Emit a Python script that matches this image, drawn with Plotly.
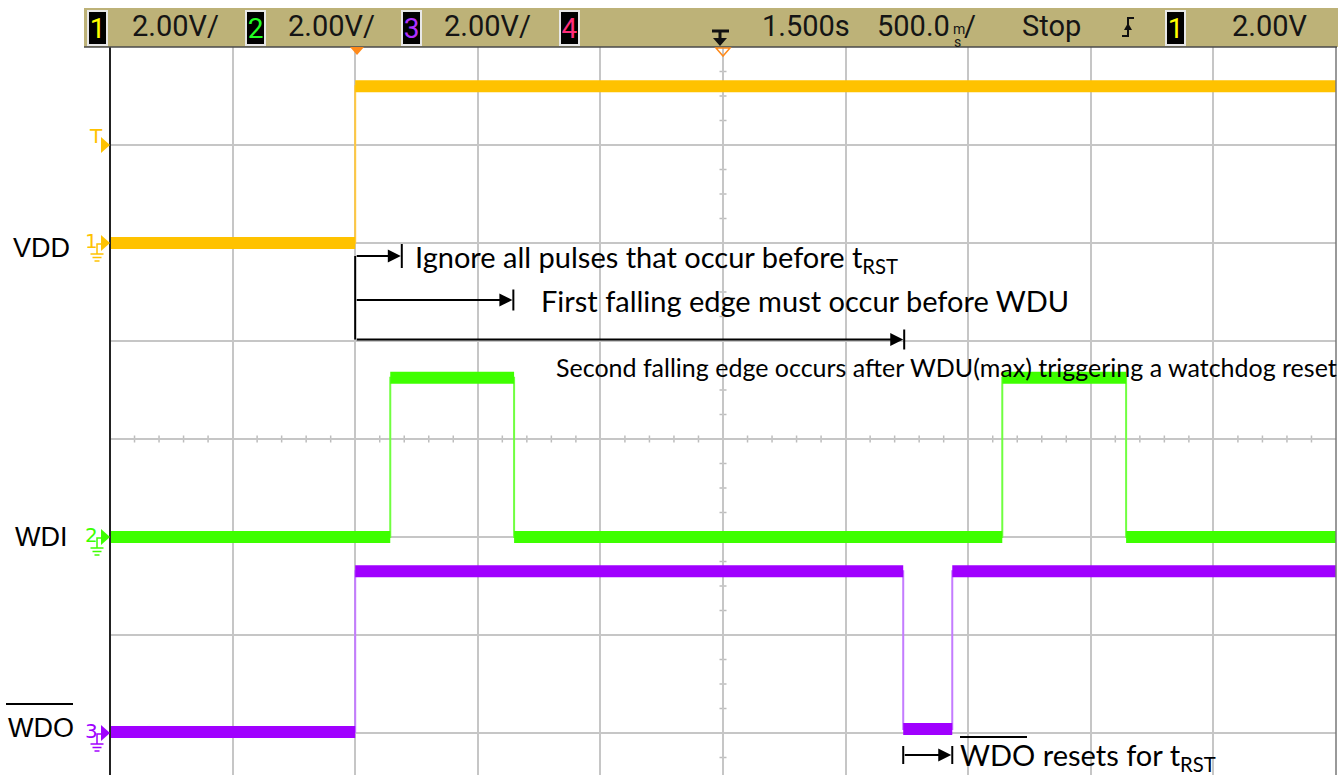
import plotly.graph_objects as go

# ---------------- data ----------------
TIME_RANGE = [-1.0, 4.0]          # seconds, 500 ms/div, 10 divisions
VOLTS_PER_DIV = 2.0
TRIGGER_LEVEL_V = 2.0
CH_NAMES = ["VDD", "WDI", "WDO"]
CH_OFFSET_DIV = [2, -1, -3]       # ground marker position (divisions from centre)

VDD_T = [-1.0, 0.0, 4.0]
VDD_V = [0.0, 3.2]
WDI_T = [-1.0, 0.143, 0.648, 2.639, 3.144, 4.0]
WDI_V = [0.0, 3.25, 0.0, 3.25, 0.0]
WDO_T = [-1.0, 0.0, 2.235, 2.435, 4.0]
WDO_V = [0.02, 3.3, 0.08, 3.3]

ARROW_END_T = [0.19, 0.645, 2.239]   # ends of the three timing arrows
RESET_T = [2.235, 2.435]             # WDO reset pulse arrow

HEADER_ITEMS = ["2.00V/", "2.00V/", "2.00V/", "1.500s", "Stop", "2.00V"]
ANNOT_TEXT = [
    "Ignore all pulses that occur before t<sub>RST</sub>",
    "First falling edge must occur before WDU",
    "Second falling edge occurs after WDU(max) triggering a watchdog reset",
    "WDO resets for t<sub>RST</sub>",
]

# ---------------- styling ----------------
W, H = 1341, 775
L, R, T, B = 110, 1336, 47, 775
CX, CY = 723, 439
DIVX = (R - L) / 10.0
DIVY = (CY - T) / 4.0
YBOT = -(B - CY) / DIVY

YEL, GRN, PUR = "#FFC200", "#3EFF00", "#A000FF"
YEL_E, GRN_E, PUR_E = "#FFC840", "#70FF40", "#C47CFF"
COLORS = [YEL, GRN, PUR]
EDGE_COLORS = [YEL_E, GRN_E, PUR_E]
HEADER_FONT = "Roboto, Liberation Sans, sans-serif"
NOTE_FONT = "Lato, Open Sans, sans-serif"


def pxp(x):  # pixel -> paper x
    return (x - L) / (R - L)


def pyp(y):  # pixel -> paper y
    return (B - y) / (B - T)


def tx(x):  # pixel -> data time
    return TIME_RANGE[0] + (x - L) / DIVX * 0.5


def dy(y):  # pixel -> data divisions
    return (CY - y) / DIVY


fig = go.Figure()

for name, off, tt, vv, col, ecol in zip(CH_NAMES, CH_OFFSET_DIV, [VDD_T, WDI_T, WDO_T],
                                        [VDD_V, WDI_V, WDO_V], COLORS, EDGE_COLORS):
    ys = [off + v / VOLTS_PER_DIV for v in vv]
    fig.add_trace(go.Scatter(x=tt, y=ys + [ys[-1]], mode="lines", line=dict(color=ecol, width=2, shape="hv"),
                             hoverinfo="skip", showlegend=False))
    xs, yb = [], []
    for i, yv in enumerate(ys):
        xs += [tt[i], tt[i + 1], None]
        yb += [yv, yv, None]
    fig.add_trace(go.Scatter(x=xs, y=yb, mode="lines", line=dict(color=col, width=12),
                             hoverinfo="skip", showlegend=False, name=name))

shapes = []
annotations = []

# centre crosshair minor ticks
for k in range(51):
    t = TIME_RANGE[0] + 0.1 * k
    if k % 5 == 0:
        continue
    shapes.append(dict(type="line", xref="x", yref="y", x0=t, x1=t, y0=-3.5 / DIVY, y1=3.5 / DIVY,
                       line=dict(color="#BDBDBD", width=1.5), layer="below"))
for j in range(-13, 17):
    yv = 0.25 * j
    if j % 4 == 0:
        continue
    shapes.append(dict(type="line", xref="x", yref="y", x0=1.5 - 3.5 / DIVX * 0.5, x1=1.5 + 3.5 / DIVX * 0.5,
                       y0=yv, y1=yv, line=dict(color="#BDBDBD", width=1.5), layer="below"))

# frame
shapes.append(dict(type="line", xref="paper", yref="paper", x0=0, x1=0, y0=0, y1=1,
                   line=dict(color="#222222", width=2)))
shapes.append(dict(type="line", xref="paper", yref="paper", x0=1, x1=1, y0=0, y1=1,
                   line=dict(color="#777777", width=1.5)))

# header bar
shapes.append(dict(type="rect", xref="paper", yref="paper", x0=pxp(84), x1=pxp(1338), y0=pyp(47), y1=pyp(8),
                   fillcolor="#BDB278", line=dict(width=0)))
shapes.append(dict(type="line", xref="paper", yref="paper", x0=pxp(84), x1=pxp(1337), y0=pyp(47), y1=pyp(47),
                   line=dict(color="#4A4A4A", width=1.5)))


def box(xc, digit, color):
    annotations.append(dict(xref="paper", yref="paper", x=pxp(xc), y=pyp(28), text=digit, showarrow=False,
                            font=dict(family=HEADER_FONT, size=28, color=color), bgcolor="#000000",
                            bordercolor="#E8E8E8", borderwidth=2, borderpad=1, width=15, height=30,
                            xanchor="center", yanchor="middle"))


def htext(xc, text, anchor="center", size=29):
    annotations.append(dict(xref="paper", yref="paper", x=pxp(xc), y=pyp(26), text=text, showarrow=False,
                            font=dict(family=HEADER_FONT, size=size, color="#151515"),
                            xanchor=anchor, yanchor="middle"))


box(97, "1", "#FFFF00")
htext(175, HEADER_ITEMS[0])
box(255, "2", "#22FF22")
htext(331, HEADER_ITEMS[1])
box(411, "3", "#B030FF")
htext(488, HEADER_ITEMS[2])
box(569, "4", "#FF2D7A")
htext(806, HEADER_ITEMS[3])
htext(952, "500.0", anchor="right")
annotations.append(dict(xref="paper", yref="paper", x=pxp(951), y=pyp(19), text="m", showarrow=False,
                        font=dict(family=HEADER_FONT, size=14, color="#151515"), xanchor="left"))
annotations.append(dict(xref="paper", yref="paper", x=pxp(952), y=pyp(32), text="s", showarrow=False,
                        font=dict(family=HEADER_FONT, size=14, color="#151515"), xanchor="left"))
htext(962, "/", anchor="left")
htext(1051, HEADER_ITEMS[4])
box(1175, "1", "#FFFF00")
htext(1270, HEADER_ITEMS[5])


def ppath(points, close=True):
    s = "M " + " L ".join(f"{pxp(x):.5f},{pyp(y):.5f}" for x, y in points)
    return s + (" Z" if close else "")


# time reference icon
shapes.append(dict(type="path", xref="paper", yref="paper",
                   path=ppath([(712, 31), (729, 31)], close=False), line=dict(color="#111111", width=3)))
shapes.append(dict(type="path", xref="paper", yref="paper",
                   path=ppath([(720, 31), (720, 39)], close=False), line=dict(color="#111111", width=3)))
shapes.append(dict(type="path", xref="paper", yref="paper",
                   path=ppath([(713, 38), (727, 38), (720, 46)]), fillcolor="#111111", line=dict(width=0)))
# trigger edge icon
shapes.append(dict(type="path", xref="paper", yref="paper",
                   path=ppath([(1122, 36), (1128, 36), (1128, 18), (1134, 18)], close=False),
                   line=dict(color="#111111", width=2)))
shapes.append(dict(type="path", xref="paper", yref="paper",
                   path=ppath([(1124, 30), (1132, 30), (1128, 23)]), fillcolor="#111111", line=dict(width=0)))

# orange trigger / delay markers
shapes.append(dict(type="path", xref="paper", yref="paper",
                   path=ppath([(350, 47), (364, 47), (357, 55)]), fillcolor="#FF8A1A", line=dict(width=0)))
shapes.append(dict(type="path", xref="paper", yref="paper",
                   path=ppath([(716, 48), (730, 48), (723, 56)]), fillcolor="rgba(0,0,0,0)",
                   line=dict(color="#FF8A1A", width=1.5)))


def chan_marker(ypx, label, color, ground=True):
    annotations.append(dict(xref="paper", yref="paper", x=pxp(91 if ground else 96), y=pyp(ypx - (2 if ground else 9)),
                            text=label, showarrow=False, xanchor="center", yanchor="middle",
                            font=dict(family="DejaVu Sans, sans-serif", size=20, color=color)))
    shapes.append(dict(type="path", xref="paper", yref="paper",
                       path=ppath([(101, ypx - 8), (110, ypx), (101, ypx + 8)]), fillcolor=color, line=dict(width=0)))
    if ground:
        shapes.append(dict(type="path", xref="paper", yref="paper",
                           path=ppath([(101, ypx + 1), (97, ypx + 1), (97, ypx + 11)], close=False),
                           line=dict(color=color, width=1.5)))
        for dyy, hw in [(11, 6.5), (14.5, 4.5), (18, 2.5)]:
            shapes.append(dict(type="line", xref="paper", yref="paper", x0=pxp(97 - hw), x1=pxp(97 + hw),
                               y0=pyp(ypx + dyy), y1=pyp(ypx + dyy), line=dict(color=color, width=1.5)))


trig_div = CH_OFFSET_DIV[0] + TRIGGER_LEVEL_V / VOLTS_PER_DIV
chan_marker(CY - trig_div * DIVY, "T", YEL, ground=False)
for off, col, lab in zip(CH_OFFSET_DIV, COLORS, ["1", "2", "3"]):
    chan_marker(CY - off * DIVY, lab, col)

# left signal labels
for name, ypx in zip(CH_NAMES, [248, 537, 728]):
    annotations.append(dict(xref="paper", yref="paper", x=pxp(41), y=pyp(ypx), text=name, showarrow=False,
                            xanchor="center", yanchor="middle",
                            font=dict(family="Liberation Sans, Arial, sans-serif", size=27, color="#000000")))
shapes.append(dict(type="line", xref="paper", yref="paper", x0=pxp(6), x1=pxp(73), y0=pyp(704), y1=pyp(704),
                   line=dict(color="#000000", width=2)))

# timing arrows
arrow_y = [dy(256), dy(300), dy(339.5)]
bar_half = [12 / DIVY, 10.5 / DIVY, 10 / DIVY]
for te, ya, bh in zip(ARROW_END_T, arrow_y, bar_half):
    annotations.append(dict(xref="x", yref="y", axref="x", ayref="y", x=te - 0.004, y=ya, ax=0.0, ay=ya, text="",
                            showarrow=True, arrowhead=2, arrowsize=1.3, arrowwidth=2, arrowcolor="#000000",
                            standoff=0))
    shapes.append(dict(type="line", xref="x", yref="y", x0=te, x1=te, y0=ya - bh, y1=ya + bh,
                       line=dict(color="#000000", width=2)))
shapes.append(dict(type="line", xref="x", yref="y", x0=0.0, x1=0.0, y0=arrow_y[0], y1=arrow_y[2],
                   line=dict(color="#000000", width=2)))

# reset arrow
ry = dy(755)
rbh = 9 / DIVY
annotations.append(dict(xref="x", yref="y", axref="x", ayref="y", x=RESET_T[1] - 0.004, y=ry, ax=RESET_T[0], ay=ry,
                        text="", showarrow=True, arrowhead=2, arrowsize=1.3, arrowwidth=2, arrowcolor="#000000",
                        standoff=0))
for te in RESET_T:
    shapes.append(dict(type="line", xref="x", yref="y", x0=te, x1=te, y0=ry - rbh, y1=ry + rbh,
                       line=dict(color="#000000", width=2)))

# annotation texts
note_pos = [(413, 258, 29), (539, 300, 29), (554, 367, 25), (958, 756, 29)]
for txt, (xp, ypx, fs) in zip(ANNOT_TEXT, note_pos):
    annotations.append(dict(xref="x", yref="y", x=tx(xp), y=dy(ypx), text=txt, showarrow=False,
                            xanchor="left", yanchor="middle",
                            font=dict(family=NOTE_FONT, size=fs, color="#000000")))
shapes.append(dict(type="line", xref="paper", yref="paper", x0=pxp(960), x1=pxp(1027), y0=pyp(737), y1=pyp(737),
                   line=dict(color="#000000", width=2)))

fig.update_layout(
    width=W, height=H,
    margin=dict(l=L, r=W - R, t=T, b=H - B, pad=0),
    paper_bgcolor="white", plot_bgcolor="white",
    showlegend=False,
    xaxis=dict(range=TIME_RANGE, showgrid=True, gridcolor="#C6C6C6", gridwidth=1.5, tick0=-1, dtick=0.5,
               showticklabels=False, ticks="", zeroline=False, showline=False, fixedrange=True),
    yaxis=dict(range=[YBOT, 4], showgrid=True, gridcolor="#C6C6C6", gridwidth=1.5, tick0=0, dtick=1,
               showticklabels=False, ticks="", zeroline=False, showline=False, fixedrange=True),
    shapes=shapes,
    annotations=annotations,
)

fig.write_html("out.html", config={"displayModeBar": False},
               post_script="document.body.style.margin='0';document.body.style.overflow='hidden';")
